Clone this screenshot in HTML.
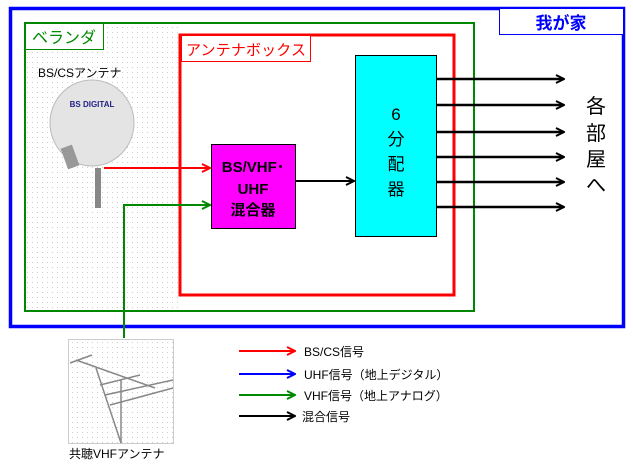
<!DOCTYPE html>
<html><head><meta charset="utf-8"><style>
body{margin:0;width:633px;height:468px;background:#fff;overflow:hidden}
svg text{font-family:"Liberation Sans","Noto Sans CJK JP",sans-serif}
</style></head><body>
<svg width="633" height="468" viewBox="0 0 633 468" xmlns="http://www.w3.org/2000/svg">
<defs>
<pattern id="dots" width="5" height="5" patternUnits="userSpaceOnUse"><rect width="5" height="5" fill="#fff"/><rect x="2" y="2" width="1" height="1" fill="#ccc"/></pattern>
<marker id="ak" markerWidth="10" markerHeight="10" refX="9" refY="5" orient="auto" markerUnits="userSpaceOnUse"><path d="M1,1 L9,5 L1,9" fill="none" stroke="#000" stroke-width="2"/></marker>
<marker id="arr" markerWidth="10" markerHeight="10" refX="9" refY="5" orient="auto" markerUnits="userSpaceOnUse"><path d="M1,1 L9,5 L1,9" fill="none" stroke="#f00" stroke-width="2"/></marker>
<marker id="ag" markerWidth="10" markerHeight="10" refX="9" refY="5" orient="auto" markerUnits="userSpaceOnUse"><path d="M1,1 L9,5 L1,9" fill="none" stroke="#080" stroke-width="2"/></marker>
<marker id="ab" markerWidth="10" markerHeight="10" refX="9" refY="5" orient="auto" markerUnits="userSpaceOnUse"><path d="M1,1 L9,5 L1,9" fill="none" stroke="#00f" stroke-width="2"/></marker>
</defs>
<rect x="10.5" y="8.5" width="613" height="318" fill="none" stroke="#00f" stroke-width="3.5"/>
<rect x="499.5" y="8.5" width="124" height="26" fill="#fff" stroke="#00f" stroke-width="1"/>
<text x="561" y="29" font-size="17" font-weight="bold" fill="#00f" text-anchor="middle">我が家</text>
<rect x="25" y="23" width="449" height="288" fill="none" stroke="#080" stroke-width="2"/>
<rect x="26" y="24" width="152" height="286" fill="url(#dots)"/>
<rect x="25.5" y="23.5" width="78" height="26" fill="#fff" stroke="#080" stroke-width="1"/>
<text x="32" y="43" font-size="16" fill="#080">ベランダ</text>
<text x="38" y="77" font-size="12">BS/CSアンテナ</text>
<ellipse cx="92" cy="123" rx="42" ry="43" fill="#e4e4e4" stroke="#bbb"/>
<text x="92" y="107" font-size="8" font-weight="bold" fill="#228" text-anchor="middle">BS DIGITAL</text>
<rect x="64" y="146" width="12" height="22" fill="#999" transform="rotate(-20 70 157)"/>
<rect x="95" y="168" width="6" height="40" fill="#888"/>
<rect x="180" y="35" width="274" height="260" fill="none" stroke="#f00" stroke-width="3"/>
<rect x="181.5" y="35.5" width="129" height="26" fill="#fff" stroke="#f00" stroke-width="1"/>
<text x="186" y="55" font-size="15" fill="#f00" textLength="120">アンテナボックス</text>
<rect x="211.5" y="144.5" width="84" height="84" fill="#f0f" stroke="#000"/>
<text x="253" y="172" font-size="15" font-weight="bold" text-anchor="middle">BS/VHF･</text>
<text x="253" y="194" font-size="15" font-weight="bold" text-anchor="middle">UHF</text>
<text x="253" y="215" font-size="15" font-weight="bold" text-anchor="middle">混合器</text>
<rect x="355.5" y="55.5" width="81" height="181" fill="#0ff" stroke="#000"/>
<g font-size="17" text-anchor="middle"><text x="396" y="120">6</text><text x="396" y="145">分</text><text x="396" y="170">配</text><text x="396" y="195">器</text></g>
<line x1="104" y1="168" x2="210" y2="168" stroke="#f00" stroke-width="2" marker-end="url(#arr)"/>
<polyline points="124,338 124,205 210,205" fill="none" stroke="#080" stroke-width="2" marker-end="url(#ag)"/>
<line x1="296" y1="181" x2="354" y2="181" stroke="#000" stroke-width="2" marker-end="url(#ak)"/>
<g stroke="#000" stroke-width="2.5">
<line x1="437" y1="79" x2="564" y2="79" marker-end="url(#ak)"/>
<line x1="437" y1="105" x2="564" y2="105" marker-end="url(#ak)"/>
<line x1="437" y1="132" x2="564" y2="132" marker-end="url(#ak)"/>
<line x1="437" y1="157" x2="564" y2="157" marker-end="url(#ak)"/>
<line x1="437" y1="182" x2="564" y2="182" marker-end="url(#ak)"/>
<line x1="437" y1="207" x2="564" y2="207" marker-end="url(#ak)"/>
</g>
<g font-size="20" text-anchor="middle"><text x="596" y="113">各</text><text x="596" y="140">部</text><text x="596" y="166">屋</text><text x="596" y="192">へ</text></g>
<rect x="68.5" y="339.5" width="105" height="104" fill="url(#dots)" stroke="#ccc"/>
<g stroke="#888" stroke-width="1.5">
<line x1="76" y1="360" x2="155" y2="388"/><line x1="96" y1="368" x2="121" y2="443"/>
<line x1="121" y1="380" x2="121" y2="443"/><line x1="70" y1="363" x2="92" y2="355"/>
<line x1="100" y1="385" x2="140" y2="375"/><line x1="105" y1="395" x2="173" y2="380"/>
<line x1="110" y1="405" x2="173" y2="388"/>
</g>
<text x="69" y="458" font-size="12">共聴VHFアンテナ</text>
<line x1="239" y1="351" x2="295" y2="351" stroke="#f00" stroke-width="2" marker-end="url(#arr)"/>
<line x1="239" y1="374" x2="295" y2="374" stroke="#00f" stroke-width="2" marker-end="url(#ab)"/>
<line x1="239" y1="395" x2="295" y2="395" stroke="#080" stroke-width="2" marker-end="url(#ag)"/>
<line x1="239" y1="416" x2="295" y2="416" stroke="#000" stroke-width="2" marker-end="url(#ak)"/>
<g font-size="12"><text x="304" y="356">BS/CS信号</text><text x="304" y="379">UHF信号（地上デジタル）</text><text x="304" y="400">VHF信号（地上アナログ）</text><text x="302" y="421">混合信号</text></g>
</svg>
</body></html>
